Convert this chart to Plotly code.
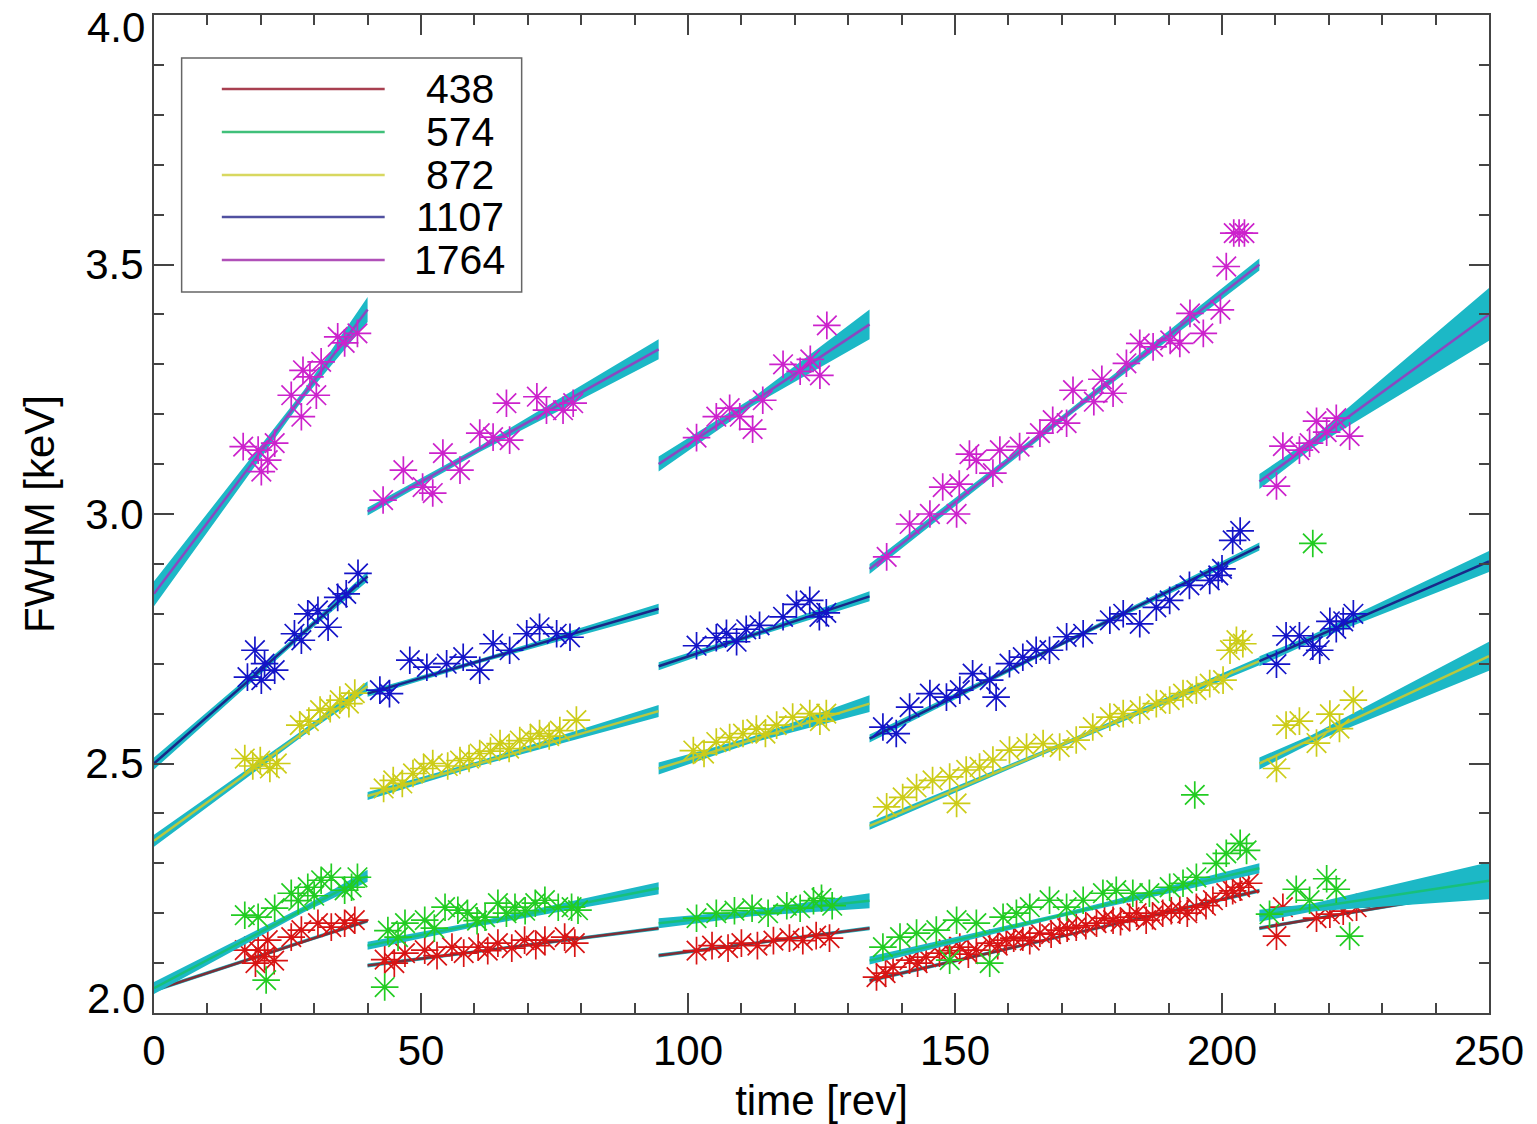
import numpy as np
import plotly.graph_objects as go

# ---------------- data ----------------
SERIES = ["438", "574", "872", "1107", "1764"]

SEG_START = [0, 40, 94.5, 134, 207]
SEG_END = [40, 94.5, 134, 207, 250]
SEG_MID = [28, 61, 112, 170, 217]

Y_TICKS = [2.0, 2.5, 3.0, 3.5, 4.0]
Y_TICK_TEXT = ["2.0", "2.5", "3.0", "3.5", "4.0"]
X_TICKS = [0, 50, 100, 150, 200, 250]

# fit line values at segment start / end
FIT_START = {
    "438": [2.045, 2.095, 2.115, 2.065, 2.170],
    "574": [2.050, 2.135, 2.180, 2.105, 2.195],
    "872": [2.345, 2.435, 2.490, 2.375, 2.500],
    "1107": [2.500, 2.640, 2.695, 2.550, 2.705],
    "1764": [2.840, 3.005, 3.100, 2.890, 3.065],
}
FIT_END = {
    "438": [2.185, 2.170, 2.170, 2.245, 2.248],
    "574": [2.275, 2.250, 2.225, 2.290, 2.265],
    "872": [2.655, 2.605, 2.620, 2.705, 2.715],
    "1107": [2.875, 2.810, 2.835, 2.935, 2.905],
    "1764": [3.410, 3.330, 3.380, 3.500, 3.400],
}
# band half-widths [start, mid, end] per segment
BAND_HW = {
    "438": [[0.004, 0.003, 0.004]] * 5,
    "574": [[0.012, 0.006, 0.012], [0.008, 0.005, 0.012], [0.010, 0.006, 0.015],
            [0.008, 0.004, 0.010], [0.012, 0.008, 0.037]],
    "872": [[0.012, 0.006, 0.010], [0.008, 0.005, 0.012], [0.012, 0.006, 0.017],
            [0.008, 0.004, 0.008], [0.012, 0.008, 0.029]],
    "1107": [[0.012, 0.006, 0.010], [0.006, 0.004, 0.010], [0.008, 0.005, 0.010],
             [0.008, 0.004, 0.008], [0.010, 0.007, 0.021]],
    "1764": [[0.025, 0.008, 0.025], [0.008, 0.006, 0.020], [0.015, 0.008, 0.030],
             [0.010, 0.006, 0.012], [0.015, 0.010, 0.053]],
}

T_438 = [17, 19, 19.5, 20.7, 21.3, 22.5, 25.7, 27.6, 30.7, 33.2, 35.7, 37.6,
         43.2, 45, 47, 50.7, 53, 55.8, 58, 60.7, 62.5, 64.4, 67, 69.4, 71.5, 73.2, 76.9, 78.8,
         101.6, 104.5, 107.5, 110, 113, 116, 119, 121.5, 124, 126.5,
         135.3, 137, 138.4, 141.5, 143, 144.6, 147.1, 149, 150.9, 152.5, 154, 156.5, 158, 159.6,
         161, 162.7, 164, 165.9, 168, 169.6, 171, 172.7, 174.5, 176.5, 178, 179.6, 181, 182.7,
         184, 185.8, 187, 188.9, 190.5, 192.1, 193.5, 195.2, 197, 198.3, 200.8, 202, 203.4, 205,
         210.2, 211.4, 217.7, 220.2, 222.7, 225.2]
Y_438 = [2.126, 2.100, 2.126, 2.113, 2.146, 2.105, 2.152, 2.166, 2.180, 2.172, 2.180, 2.186,
         2.107, 2.100, 2.120, 2.126, 2.115, 2.132, 2.120, 2.132, 2.125, 2.140, 2.130, 2.146, 2.135, 2.146, 2.152, 2.140,
         2.125, 2.135, 2.130, 2.140, 2.135, 2.145, 2.150, 2.145, 2.155, 2.150,
         2.072, 2.080, 2.092, 2.106, 2.100, 2.112, 2.120, 2.125, 2.132, 2.118, 2.126, 2.140, 2.135, 2.146,
         2.150, 2.152, 2.145, 2.160, 2.158, 2.166, 2.170, 2.172, 2.175, 2.180, 2.190, 2.186, 2.183, 2.192,
         2.200, 2.186, 2.195, 2.200, 2.205, 2.206, 2.200, 2.212, 2.215, 2.226, 2.240, 2.245, 2.252, 2.260,
         2.154, 2.212, 2.190, 2.198, 2.204, 2.212]

T_574 = [17, 19.5, 21, 22.6, 25.7, 27, 28.8, 30, 31.3, 33.2, 35.7, 37, 38.1,
         43.2, 43.8, 45.7, 47, 50.7, 52.5, 54.5, 56.9, 58.7, 60.5, 62, 64.4, 66, 67.6, 69.5, 71.4, 73.2, 75.7, 78.2, 79.4,
         101.6, 105.3, 108.7, 112, 115, 118.5, 121, 123.5, 125, 127,
         136.5, 139.7, 142.8, 146.5, 149, 150.3, 154, 156.5, 159, 161.5, 164, 167.7, 170.9, 174, 177.7,
         180.2, 183.3, 186.4, 190.2, 192.7, 194.9, 195.2, 198.9, 200.8, 203.4, 204.6,
         208.9, 213.9, 216.4, 217, 219.6, 221.4, 223.9]
Y_574 = [2.196, 2.192, 2.066, 2.210, 2.240, 2.225, 2.252, 2.235, 2.266, 2.272, 2.246, 2.252, 2.272,
         2.052, 2.165, 2.152, 2.180, 2.186, 2.170, 2.212, 2.206, 2.200, 2.185, 2.192, 2.220, 2.200, 2.212, 2.205, 2.220, 2.226, 2.212, 2.212, 2.206,
         2.190, 2.200, 2.205, 2.210, 2.200, 2.215, 2.210, 2.225, 2.230, 2.215,
         2.132, 2.152, 2.160, 2.166, 2.106, 2.186, 2.180, 2.100, 2.192, 2.200, 2.212, 2.226, 2.212, 2.226, 2.240,
         2.246, 2.240, 2.240, 2.252, 2.260, 2.437, 2.272, 2.300, 2.320, 2.340, 2.326,
         2.198, 2.248, 2.226, 2.941, 2.269, 2.248, 2.154]

T_872 = [17, 18.5, 19.9, 21.7, 23, 27.3, 29, 31.1, 33, 34.8, 36.5, 37.6,
         43, 44.8, 46.5, 48.5, 50.5, 52.2, 55, 57.3, 59, 61, 63, 64.8, 66.5, 68.5, 70.5, 72.2, 74, 76, 79.1,
         101, 103, 105.3, 107.8, 110.3, 112.8, 114.5, 116.6, 119.6, 122.8, 124.7, 125.9,
         137.2, 140.2, 142.8, 145.8, 149, 150.3, 152.1, 154.6, 157.1, 160.2, 163.4, 166.5, 169.6, 172.7,
         175.8, 179, 181.5, 184.6, 187.7, 190.2, 192.7, 195.2, 197.7, 200.2, 201.5, 202.7, 203.9,
         210.2, 212, 214.5, 217.7, 220.2, 222, 224.6]
Y_872 = [2.510, 2.495, 2.506, 2.490, 2.500, 2.577, 2.585, 2.607, 2.610, 2.627, 2.620, 2.641,
         2.450, 2.466, 2.460, 2.480, 2.490, 2.500, 2.495, 2.506, 2.510, 2.520, 2.525, 2.540, 2.530, 2.546, 2.550, 2.560, 2.555, 2.566, 2.587,
         2.526, 2.520, 2.543, 2.552, 2.560, 2.569, 2.560, 2.577, 2.593, 2.600, 2.585, 2.600,
         2.413, 2.432, 2.452, 2.466, 2.473, 2.420, 2.487, 2.493, 2.507, 2.527, 2.533, 2.540, 2.533, 2.547,
         2.573, 2.593, 2.600, 2.607, 2.620, 2.627, 2.640, 2.647, 2.660, 2.667, 2.727, 2.747, 2.740,
         2.490, 2.577, 2.585, 2.541, 2.599, 2.570, 2.627]

T_1107 = [17.5, 18.9, 20.1, 20.7, 22.6, 26.3, 27.6, 28.8, 30.7, 32.6, 34.4, 36, 38.2,
          42.3, 44.1, 47.9, 51.1, 54.8, 57.9, 61, 63.5, 66.6, 69.8, 72.2, 75.4, 77.9,
          101.6, 105.3, 107.2, 109.1, 110.9, 113.4, 117.8, 120.3, 122.8, 124.6, 125.9,
          136.5, 139, 141.5, 145.3, 148.4, 150.9, 153.3, 156.5, 157.7, 160.2, 162.7, 165.2, 167.7,
          170.9, 174, 179, 181.5, 184.6, 187.7, 190.2, 193.9, 197.7, 199.3, 200, 202, 203.4,
          210.2, 212, 214.5, 217, 218.3, 220.2, 221.4, 222.7, 224.6]
Y_1107 = [2.673, 2.727, 2.667, 2.700, 2.687, 2.760, 2.747, 2.800, 2.807, 2.773, 2.833, 2.840, 2.881,
          2.647, 2.640, 2.707, 2.693, 2.700, 2.713, 2.687, 2.740, 2.727, 2.760, 2.773, 2.760, 2.753,
          2.736, 2.752, 2.761, 2.744, 2.769, 2.777, 2.794, 2.819, 2.827, 2.794, 2.802,
          2.573, 2.560, 2.613, 2.640, 2.633, 2.647, 2.680, 2.667, 2.633, 2.700, 2.713, 2.727, 2.727,
          2.754, 2.760, 2.787, 2.800, 2.780, 2.813, 2.827, 2.857, 2.867, 2.877, 2.890, 2.947, 2.966,
          2.699, 2.756, 2.756, 2.735, 2.727, 2.785, 2.770, 2.785, 2.800]

T_1764 = [16.7, 19.5, 20.1, 21.3, 22.6, 25.7, 27.6, 27.9, 29.2, 30.4, 31.3, 34.4, 35.7, 38.1,
          42.9, 46.7, 50.3, 52.2, 54.1, 57.3, 61, 63.5, 66, 66.6, 71.7, 73.5, 76.6, 78.5,
          101.6, 105.3, 107.8, 109.7, 112.1, 114, 117.8, 121, 122.9, 124.7, 126,
          137.2, 141.5, 145.3, 147.7, 150.3, 150.8, 152.7, 154, 157.1, 158.4, 162.1, 165.9, 168.3,
          170.9, 172.1, 176, 177.5, 179.6, 182.1, 184.6, 187.1, 190.3, 192.1, 194, 196.5, 199.7,
          200.8, 202.2, 203.2, 204.2,
          210.2, 211.4, 214.5, 216.4, 217.7, 219.6, 221.4, 223.9]
Y_1764 = [3.135, 3.128, 3.085, 3.108, 3.142, 3.238, 3.195, 3.288, 3.275, 3.238, 3.305, 3.355, 3.343, 3.362,
          3.028, 3.088, 3.054, 3.042, 3.122, 3.088, 3.162, 3.154, 3.222, 3.148, 3.235, 3.208, 3.208, 3.222,
          3.153, 3.195, 3.212, 3.195, 3.170, 3.228, 3.300, 3.286, 3.310, 3.278, 3.378,
          2.914, 2.980, 3.000, 3.054, 3.000, 3.060, 3.120, 3.108, 3.082, 3.128, 3.135, 3.162, 3.188,
          3.182, 3.248, 3.225, 3.270, 3.242, 3.302, 3.342, 3.335, 3.348, 3.342, 3.402, 3.362, 3.409,
          3.496, 3.563, 3.563, 3.563,
          3.056, 3.136, 3.128, 3.142, 3.186, 3.164, 3.192, 3.156]

POINTS = {"438": (T_438, Y_438), "574": (T_574, Y_574), "872": (T_872, Y_872),
          "1107": (T_1107, Y_1107), "1764": (T_1764, Y_1764)}

# ---------------- styles ----------------
MARKER_COLOR = {"438": "#d81414", "574": "#22cc22", "872": "#cccc18",
                "1107": "#1414c8", "1764": "#cc22cc"}
LINE_COLOR = {"438": "#7a2e38", "574": "#18c07a", "872": "#b8c840",
              "1107": "#1a2888", "1764": "#8a48c0"}
LEGEND_COLOR = {"438": "#a84050", "574": "#40c07a", "872": "#d8d860",
                "1107": "#5050a0", "1764": "#b050b8"}
BAND_COLOR = "rgb(28,184,198)"

fig = go.Figure()

for s in SERIES:
    # confidence bands
    for i in range(5):
        xs, xm, xe = SEG_START[i], SEG_MID[i], SEG_END[i]
        ys, ye = FIT_START[s][i], FIT_END[s][i]
        ym = float(np.interp(xm, [xs, xe], [ys, ye]))
        hs, hm, he = BAND_HW[s][i]
        fig.add_trace(go.Scatter(
            x=[xs, xm, xe, xe, xm, xs],
            y=[ys + hs, ym + hm, ye + he, ye - he, ym - hm, ys - hs],
            fill="toself", fillcolor=BAND_COLOR, line=dict(width=0),
            mode="lines", hoverinfo="skip", showlegend=False))
    # fit lines
    lx, ly = [], []
    for i in range(5):
        lx += [SEG_START[i], SEG_END[i], None]
        ly += [FIT_START[s][i], FIT_END[s][i], None]
    fig.add_trace(go.Scatter(x=lx, y=ly, mode="lines",
                             line=dict(color=LINE_COLOR[s], width=2.5),
                             showlegend=False, hoverinfo="skip"))
    # data points
    t, y = POINTS[s]
    fig.add_trace(go.Scatter(x=t, y=y, mode="markers", name=s, showlegend=False,
                             marker=dict(symbol="asterisk-open", size=23,
                                         line=dict(color=MARKER_COLOR[s], width=1.7),
                                         color=MARKER_COLOR[s])))

# ---------------- custom legend ----------------
shapes = [dict(type="rect", xref="paper", yref="paper", x0=0.0207, x1=0.2754,
               y0=0.7224, y1=0.9569, line=dict(color="#666666", width=1.5),
               fillcolor="white", layer="above")]
annotations = []
leg_y = [0.9258, 0.8827, 0.8396, 0.7975, 0.7544]
for s, yy in zip(SERIES, leg_y):
    shapes.append(dict(type="line", xref="paper", yref="paper", x0=0.0508, x1=0.1728,
                       y0=yy, y1=yy, line=dict(color=LEGEND_COLOR[s], width=2.5), layer="above"))
    annotations.append(dict(text=s, xref="paper", yref="paper", x=0.229, y=yy,
                            xanchor="center", yanchor="middle", showarrow=False,
                            font=dict(size=41, color="black")))

FONT = "Liberation Sans, Arial, Helvetica, sans-serif"

# end tick labels of the y axis sit slightly inside the axis range (as in the reference)
annotations.append(dict(text=Y_TICK_TEXT[-1], xref="paper", yref="paper", x=-0.005, y=0.987,
                        xanchor="right", yanchor="middle", showarrow=False,
                        font=dict(size=42, color="black", family=FONT)))
annotations.append(dict(text=Y_TICK_TEXT[0], xref="paper", yref="paper", x=-0.005, y=0.0147,
                        xanchor="right", yanchor="middle", showarrow=False,
                        font=dict(size=42, color="black", family=FONT)))
annotations.append(dict(text="42", xref="paper", yref="paper", x=-0.086, y=-0.1045,
                        xanchor="center", yanchor="top", showarrow=False,
                        font=dict(size=40, color="black")))

axis_common = dict(showline=True, linecolor="#444444", linewidth=2, mirror="allticks",
                   ticks="inside", ticklen=20, tickwidth=1.5, tickcolor="#444444",
                   showgrid=False, zeroline=False, automargin=False,
                   ticklabeloverflow="allow",
                   tickfont=dict(size=42, color="black", family=FONT))

y_tick_text_axis = [""] + Y_TICK_TEXT[1:-1] + [""]

# page body has an 8px default margin, so the figure is sized/offset to compensate
fig.update_layout(
    width=1529, height=1116,
    margin=dict(l=146, r=48, t=7, b=111, autoexpand=False),
    paper_bgcolor="white", plot_bgcolor="white",
    font=dict(family=FONT, size=42, color="black"),
    shapes=shapes, annotations=annotations,
    showlegend=False,
    xaxis=dict(range=[0, 250], tickvals=X_TICKS,
               minor=dict(dtick=10, ticks="inside", ticklen=10, tickcolor="#444444", tickwidth=1.5),
               ticklabelstandoff=0,
               title=dict(text="time [rev]", font=dict(size=42), standoff=14),
               **axis_common),
    yaxis=dict(range=[2.0, 4.0], tickvals=Y_TICKS, ticktext=y_tick_text_axis,
               minor=dict(dtick=0.1, ticks="inside", ticklen=10, tickcolor="#444444", tickwidth=1.5),
               ticklabelstandoff=0,
               title=dict(text="FWHM [keV]", font=dict(size=42), standoff=18),
               **axis_common),
)

fig.write_html("out.html")
